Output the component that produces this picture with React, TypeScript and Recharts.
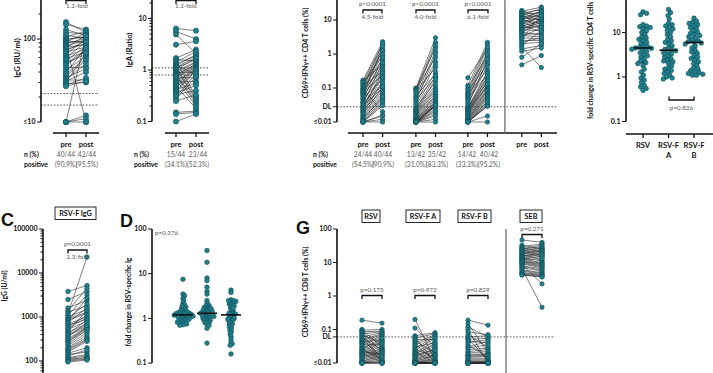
import React from 'react';
import { ScatterChart, Scatter, XAxis, YAxis, ReferenceLine, ErrorBar } from 'recharts';

const FONT = 'Lato, "Open Sans", "DejaVu Sans", sans-serif';
const TEAL = '#21808e';
const TEAL_DARK = '#0e4d58';
const INK = '#111';
const LINE = '#2a2a2a';
const NOTE = '#5a5a5a';

// ---------------- data ----------------
// A: RSV IgG (RU/ml), paired pre/post
const igg_pre = [160, 150, 130, 120, 112, 105, 100, 98, 95, 92, 90, 88, 85, 82, 80, 78, 75, 72, 70, 66, 62, 60, 58, 55, 52, 50, 48, 45, 42, 40, 38, 36, 34, 33, 32, 31, 30, 29, 28, 27, 10, 10, 10, 10];
const igg_post = [120, 130, 110, 115, 100, 125, 105, 108, 90, 118, 95, 102, 10, 98, 85, 112, 88, 96, 80, 100, 76, 92, 70, 82, 65, 75, 72, 46, 62, 78, 58, 55, 44, 50, 32, 40, 68, 30, 34, 31, 110, 12, 11, 10];
const igg_cutoffs = [22, 16];
// A: RSV IgA (ratio)
const iga_pre = [6.4, 5.6, 4.9, 3.1, 1.7, 1.6, 1.5, 1.4, 1.3, 1.25, 1.2, 1.15, 1.12, 1.1, 1.05, 1.0, 0.95, 0.9, 0.88, 0.85, 0.82, 0.8, 0.78, 0.75, 0.72, 0.7, 0.65, 0.6, 0.58, 0.55, 0.5, 0.48, 0.45, 0.42, 0.4, 0.38, 0.36, 0.33, 0.3, 0.27, 0.25, 0.15, 0.14, 0.1];
const iga_post = [5.8, 4.0, 2.1, 3.6, 2.5, 1.5, 0.3, 2.3, 1.9, 0.8, 2.0, 0.28, 1.8, 1.6, 0.26, 1.7, 1.45, 0.9, 1.4, 0.24, 1.3, 1.25, 0.22, 1.2, 0.7, 1.15, 0.2, 1.12, 0.6, 1.1, 1.08, 0.18, 1.05, 0.55, 1.0, 0.95, 0.5, 0.4, 0.85, 0.75, 0.33, 0.16, 0.15, 0.14];
const iga_cutoffs = [1.1, 0.8];

// B: CD69+IFNg+ CD4 T cells (%)
const cd4_rsv_pre = [0.17, 0.16, 0.15, 0.14, 0.13, 0.12, 0.11, 0.1, 0.095, 0.09, 0.085, 0.08, 0.075, 0.07, 0.065, 0.06, 0.055, 0.05, 0.045, 0.04, 0.038, 0.035, 0.032, 0.03, 0.027, 0.025, 0.023, 0.022, 0.02, 0.019, 0.018, 0.016, 0.015, 0.014, 0.013, 0.012, 0.011, 0.01, 0.01, 0.01, 0.01, 0.01, 0.01, 0.01];
const cd4_rsv_post = [2.3, 0.5, 1.9, 0.9, 1.5, 0.3, 1.2, 2.1, 0.7, 0.02, 1.3, 0.45, 1.0, 0.25, 0.6, 1.7, 0.4, 0.18, 0.8, 0.35, 0.12, 0.55, 0.22, 0.1, 0.32, 0.28, 0.2, 0.09, 0.16, 0.14, 0.08, 0.11, 0.07, 0.06, 0.05, 0.055, 0.045, 0.04, 0.035, 0.03, 0.016, 0.015, 0.012, 0.01];
const cd4_fa_pre = [0.1, 0.095, 0.09, 0.085, 0.08, 0.07, 0.06, 0.055, 0.05, 0.045, 0.04, 0.035, 0.03, 0.027, 0.025, 0.024, 0.022, 0.021, 0.02, 0.019, 0.018, 0.017, 0.016, 0.015, 0.014, 0.013, 0.013, 0.012, 0.012, 0.011, 0.011, 0.01, 0.01, 0.01, 0.01, 0.01, 0.01, 0.01, 0.01, 0.01, 0.01, 0.01];
const cd4_fa_post = [3.0, 1.5, 0.8, 2.2, 0.4, 1.8, 0.25, 1.2, 0.6, 0.2, 1.0, 0.5, 0.3, 0.15, 0.22, 0.12, 0.1, 0.18, 0.09, 0.08, 0.07, 0.06, 0.055, 0.05, 0.045, 0.04, 0.038, 0.035, 0.033, 0.031, 0.03, 0.029, 0.029, 0.03, 0.032, 0.025, 0.022, 0.02, 0.017, 0.015, 0.012, 0.01];
const cd4_fb_pre = [0.2, 0.12, 0.1, 0.09, 0.08, 0.07, 0.065, 0.06, 0.055, 0.05, 0.045, 0.04, 0.035, 0.03, 0.027, 0.026, 0.025, 0.024, 0.023, 0.022, 0.021, 0.02, 0.019, 0.018, 0.017, 0.016, 0.015, 0.014, 0.013, 0.013, 0.012, 0.012, 0.011, 0.011, 0.01, 0.01, 0.01, 0.01, 0.01, 0.01, 0.01, 0.01];
const cd4_fb_post = [1.4, 2.2, 0.9, 1.9, 0.5, 1.6, 0.35, 1.2, 0.8, 0.25, 1.0, 0.6, 0.45, 0.7, 0.3, 0.2, 0.27, 0.15, 0.22, 0.12, 0.18, 0.11, 0.16, 0.1, 0.13, 0.09, 0.085, 0.08, 0.07, 0.065, 0.06, 0.055, 0.05, 0.045, 0.04, 0.035, 0.032, 0.03, 0.029, 0.04, 0.015, 0.01];
const cd4_seb_pre = [19, 18, 17, 16, 15, 14, 13.5, 13, 12, 11.5, 11, 10.5, 10, 9.5, 9, 8.5, 8, 7.5, 7, 6.5, 6, 5.8, 5.5, 5.2, 5, 4.7, 4.4, 4.1, 3.8, 3.5, 3.2, 3, 2.8, 2.5, 2.2, 2, 1.8, 1.6, 1.4, 1.2, 0.8, 0.48];
const cd4_seb_post = [12, 24, 9, 20, 16, 7, 22, 13, 10, 18, 6, 14, 19, 8, 11, 5.5, 17, 12.5, 4.5, 9.5, 15, 6.5, 8.5, 10.5, 5, 7.5, 3.6, 11.5, 4, 3.2, 6, 2.8, 13.5, 2.5, 3, 2.2, 4.8, 0.4, 1.8, 1.5, 2.0, 0.9];
const cd4_DL = 0.028;

// B right: fold change in RSV-specific CD4 T cells
const fc_categories = ['RSV', 'RSV-F A', 'RSV-F B'];
const fc_rsv = [29, 27, 25, 15, 14, 13.5, 13, 12, 11, 10, 9, 8, 7.5, 7, 6.5, 6, 5.5, 5, 4.8, 4.6, 4.5, 4.4, 4.2, 4, 3.8, 3.5, 3.2, 3, 2.8, 2.5, 2.3, 2.1, 2, 1.8, 1.5, 1.3, 1.1, 0.95, 0.85, 0.75, 0.65, 0.6, 0.55, 0.5];
const fc_fa = [33, 28, 24, 20, 16, 15, 14, 13, 12, 11, 10, 9, 8, 7, 6.5, 6, 5.5, 5, 4.5, 4.2, 4.0, 3.9, 3.7, 3.5, 3.3, 3, 2.8, 2.6, 2.4, 2.3, 2.2, 2, 1.8, 1.6, 1.5, 1.4, 1.3, 1.2, 1.1, 1.0, 0.95, 0.9];
const fc_fb = [21, 18, 17, 16, 15, 14, 13, 12, 11, 10, 9.5, 9, 8.5, 8, 7.5, 7, 6.5, 6.2, 6, 5.8, 5.5, 5, 4.5, 4, 3.7, 3.4, 3, 2.8, 2.6, 2.4, 2.2, 2, 1.8, 1.6, 1.5, 1.4, 1.3, 1.25, 1.2, 1.15, 1.1, 1.1];
const fc_median = [4.5, 4.0, 6.0];
const fc_q1 = [2.1, 2.3, 2.6];
const fc_q3 = [13, 14, 14];

// C: RSV-F IgG (U/ml)
const fIgg_pre = [3800, 2500, 1600, 1400, 1300, 1200, 1100, 1000, 950, 900, 850, 800, 750, 700, 650, 600, 560, 520, 480, 450, 420, 400, 380, 350, 320, 300, 280, 260, 240, 220, 200, 190, 180, 170, 160, 150, 140, 130, 120, 115, 110, 105, 100, 95];
const fIgg_post = [5200, 3800, 2400, 4500, 1800, 23000, 3200, 1500, 2000, 1300, 1200, 2700, 1600, 1000, 900, 1100, 950, 800, 1400, 700, 850, 650, 600, 750, 580, 550, 500, 620, 520, 450, 400, 350, 320, 300, 280, 200, 160, 180, 140, 130, 120, 115, 110, 105];

// D: fold change in RSV-specific Ig
const dfc_g1 = [7.5, 3.5, 3.2, 2.8, 2.5, 2.2, 2.0, 1.9, 1.8, 1.7, 1.6, 1.5, 1.45, 1.4, 1.35, 1.3, 1.28, 1.25, 1.22, 1.2, 1.18, 1.15, 1.12, 1.1, 1.08, 1.05, 1.02, 1.0, 0.98, 0.95, 0.92, 0.9, 0.88, 0.85, 0.82, 0.8, 0.78, 0.75, 0.72, 0.7, 1.3, 1.4, 1.15, 1.25];
const dfc_g2 = [33, 18, 8, 7, 5, 4, 3.5, 2.5, 2.2, 2.0, 1.9, 1.8, 1.75, 1.7, 1.6, 1.55, 1.5, 1.45, 1.4, 1.35, 1.3, 1.3, 1.25, 1.2, 1.2, 1.15, 1.1, 1.1, 1.05, 1.0, 1.0, 0.95, 0.9, 0.9, 0.85, 0.8, 0.8, 0.75, 0.7, 0.6, 0.28, 1.6, 1.4, 1.2];
const dfc_g3 = [4.3, 3.8, 2.6, 2.5, 2.5, 2.4, 2.3, 2.2, 2.1, 2.0, 1.9, 1.8, 1.6, 1.5, 1.4, 1.3, 1.25, 1.2, 1.15, 1.1, 1.05, 1.0, 0.95, 0.9, 0.85, 0.8, 0.75, 0.7, 0.65, 0.6, 0.55, 0.5, 0.45, 0.4, 0.35, 0.3, 0.27, 0.25, 0.16, 1.7, 1.3, 0.95];
const dfc_median = [1.2, 1.3, 1.2];
const dfc_q1 = [0.95, 1.0, 0.75];
const dfc_q3 = [1.7, 1.8, 2.1];

// G: CD69+IFNg+ CD8 T cells (%)
const cd8_rsv_pre = [0.19, 0.1, 0.095, 0.09, 0.085, 0.08, 0.075, 0.07, 0.065, 0.06, 0.055, 0.05, 0.048, 0.045, 0.042, 0.04, 0.038, 0.035, 0.033, 0.03, 0.028, 0.026, 0.025, 0.024, 0.022, 0.021, 0.02, 0.019, 0.018, 0.017, 0.016, 0.015, 0.014, 0.013, 0.012, 0.011, 0.011, 0.01, 0.01, 0.01, 0.01, 0.01, 0.01, 0.01];
const cd8_rsv_post = [0.155, 0.03, 0.1, 0.02, 0.09, 0.012, 0.085, 0.04, 0.01, 0.08, 0.025, 0.075, 0.015, 0.07, 0.05, 0.011, 0.065, 0.035, 0.06, 0.01, 0.047, 0.055, 0.013, 0.044, 0.018, 0.042, 0.01, 0.037, 0.032, 0.028, 0.026, 0.024, 0.023, 0.022, 0.021, 0.019, 0.017, 0.016, 0.014, 0.012, 0.011, 0.01, 0.01, 0.01];
const cd8_fa_pre = [0.2, 0.11, 0.065, 0.06, 0.055, 0.05, 0.045, 0.04, 0.037, 0.034, 0.03, 0.028, 0.026, 0.024, 0.022, 0.02, 0.019, 0.018, 0.017, 0.016, 0.015, 0.014, 0.013, 0.012, 0.012, 0.011, 0.011, 0.01, 0.01, 0.01, 0.01, 0.01, 0.01, 0.01, 0.01, 0.01, 0.01, 0.01, 0.01, 0.01, 0.01, 0.01];
const cd8_fa_post = [0.012, 0.03, 0.08, 0.01, 0.075, 0.05, 0.02, 0.07, 0.011, 0.065, 0.04, 0.06, 0.015, 0.055, 0.01, 0.045, 0.035, 0.038, 0.025, 0.032, 0.028, 0.026, 0.022, 0.019, 0.024, 0.018, 0.017, 0.016, 0.014, 0.013, 0.012, 0.011, 0.01, 0.01, 0.01, 0.01, 0.01, 0.01, 0.01, 0.01, 0.01, 0.01];
const cd8_fb_pre = [0.19, 0.15, 0.12, 0.1, 0.085, 0.07, 0.06, 0.055, 0.05, 0.045, 0.04, 0.035, 0.03, 0.028, 0.025, 0.022, 0.02, 0.018, 0.017, 0.016, 0.015, 0.014, 0.013, 0.012, 0.011, 0.011, 0.01, 0.01, 0.01, 0.01, 0.01, 0.01, 0.01, 0.01, 0.01, 0.01, 0.01, 0.01, 0.01, 0.01, 0.01, 0.01];
const cd8_fb_post = [0.135, 0.02, 0.06, 0.01, 0.07, 0.03, 0.065, 0.012, 0.055, 0.04, 0.05, 0.015, 0.045, 0.035, 0.028, 0.025, 0.022, 0.019, 0.018, 0.017, 0.016, 0.014, 0.013, 0.012, 0.011, 0.011, 0.01, 0.01, 0.01, 0.01, 0.01, 0.01, 0.01, 0.01, 0.01, 0.01, 0.01, 0.01, 0.01, 0.01, 0.01, 0.01];
const cd8_seb_pre = [47, 33, 30, 28, 26, 25, 24, 23, 22, 21, 20, 19, 18, 17, 16, 15.5, 15, 14, 13.5, 13, 12.5, 12, 11.5, 11, 10.5, 10, 9.5, 9, 8.5, 8, 7.5, 7, 6.5, 6, 5.5, 5, 4.8, 4.5, 4.3, 4.2];
const cd8_seb_post = [40, 25, 36, 20, 33, 30, 16, 28, 26, 14, 24, 23, 22, 12, 21, 19, 18, 11, 17, 15, 10, 13, 9.5, 9, 8.5, 8, 7.5, 7, 2.3, 6.5, 6, 5.5, 0.46, 5, 4.8, 4.5, 4.2, 4, 3.8, 3.7];
const cd8_DL = 0.06;

// ---------------- helpers ----------------
type Geo = { L: number; R: number; T: number; B: number; yv: number; yp: number; dec: number; xv: number; xp: number; ux: number; yw: number; xh: number };
type PairGroup = { pre: number[]; post: number[]; xPre: number; xPost: number };
type SwarmGroup = { values: number[]; x: number; med: number; q1: number; q3: number };
type Cfg = {
  geo: Geo;
  yTicks: [number, string][];
  minor: boolean;
  yLine: [number, number];
  xTicks: [number, string[]][];
  xLine?: [number, number];
  pairs?: PairGroup[];
  swarms?: SwarmGroup[];
  pack?: number;
  dashed?: { y: number; x2: number }[];
  vline?: number;
  r: number;
  medHalf?: number;
};

const MT = 8;
const MR = 4;

function minorTicks(lo: number, hi: number): number[] {
  const out: number[] = [];
  for (let e = Math.floor(Math.log10(lo)) - 1; e <= Math.ceil(Math.log10(hi)); e++) {
    for (let m = 2; m <= 9; m++) {
      const v = m * Math.pow(10, e);
      if (v > lo * 1.0001 && v < hi * 0.9999) out.push(v);
    }
  }
  return out;
}

function swarmOffsets(values: number[], dec: number, r: number, pack: number): number[] {
  const order = values.map((_, i) => i).sort((a, b) => values[b] - values[a]);
  const placed: [number, number][] = [];
  const out = new Array(values.length).fill(0);
  const minD = 2 * r * pack;
  for (const i of order) {
    const py = Math.log10(values[i]) * dec;
    let best = 0;
    for (let k = 0; k < 400; k++) {
      const c = k === 0 ? 0 : (k % 2 ? 1 : -1) * Math.ceil(k / 2) * 0.4;
      if (placed.every(([px, qy]) => (px - c) ** 2 + (qy - py) ** 2 >= minD * minD)) { best = c; break; }
    }
    placed.push([best, py]);
    out[i] = best;
  }
  return out;
}

const YTick = (props: any) => {
  const { x, y, payload, labels } = props;
  const lab = labels.get(payload.value);
  const major = lab !== undefined;
  return (
    <g>
      <line x1={x - (major ? 4 : 2.5)} x2={x} y1={y} y2={y} stroke={INK} strokeWidth={1} />
      {major && lab !== '' && (
        <text x={x - 5.5} y={y} dy="0.34em" textAnchor="end" fontSize={7} fontWeight={700} fontFamily={FONT} fill={INK}>{lab}</text>
      )}
    </g>
  );
};

const XTick = (props: any) => {
  const { x, y, payload, labels } = props;
  const lines: string[] = labels.get(payload.value) || [];
  return (
    <g>
      <line x1={x} x2={x} y1={y} y2={y + 4} stroke={INK} strokeWidth={1.3} />
      {lines.map((l, i) => (
        <text key={i} x={x} y={y + 14 + i * 9.5} textAnchor="middle" fontSize={7.5} fontWeight={700} fontFamily={FONT} fill={INK}>{l}</text>
      ))}
    </g>
  );
};

const NoShape = () => <g />;

function Panel({ cfg }: { cfg: Cfg }) {
  const g = cfg.geo;
  const yMin = g.yv * Math.pow(10, -(g.B - g.yp) / g.dec);
  const yMax = g.yv * Math.pow(10, (g.yp - g.T) / g.dec);
  const xMin = g.xv - (g.xp - g.L) / g.ux;
  const xMax = g.xv + (g.R - g.xp) / g.ux;
  const W = g.R - g.L + g.yw + MR;
  const H = g.B - g.T + g.xh + MT;
  const labels = new Map<number, string>(cfg.yTicks);
  const yLo = Math.max(cfg.yLine[0], yMin);
  const ticks = cfg.yTicks.map((t) => t[0]).concat(cfg.minor ? minorTicks(yLo, cfg.yLine[1]) : []);
  const xLabels = new Map<number, string[]>(cfg.xTicks);
  const r = cfg.r;
  const dots: { x: number; y: number }[] = [];
  (cfg.pairs || []).forEach((p) => {
    p.pre.forEach((v) => dots.push({ x: p.xPre, y: v }));
    p.post.forEach((v) => dots.push({ x: p.xPost, y: v }));
  });
  (cfg.swarms || []).forEach((s) => {
    const off = swarmOffsets(s.values, g.dec, r, cfg.pack || 0.9);
    s.values.forEach((v, i) => dots.push({ x: s.x + off[i] / g.ux, y: v }));
  });
  const dotShape = (p: any) => <circle cx={p.cx} cy={p.cy} r={r} fill={TEAL} stroke={TEAL_DARK} strokeWidth={0.6} />;
  const medHalf = cfg.medHalf || 10;
  const medShape = (p: any) => <line x1={p.cx - medHalf} x2={p.cx + medHalf} y1={p.cy} y2={p.cy} stroke={INK} strokeWidth={1.6} />;
  const hideX = cfg.xTicks.length === 0;

  return (
    <div style={{ position: 'absolute', left: g.L - g.yw, top: g.T - MT, width: W, height: H }}>
      <ScatterChart width={W} height={H} margin={{ top: MT, right: MR, bottom: 0, left: 0 }}>
        <XAxis type="number" dataKey="x" domain={[xMin, xMax]} allowDataOverflow hide={hideX}
          ticks={cfg.xTicks.map((t) => t[0])} interval={0} tickSize={0} tickMargin={0} tickLine={false} axisLine={false}
          height={hideX ? 0 : g.xh} tick={(p: any) => <XTick {...p} labels={xLabels} />} />
        <YAxis type="number" dataKey="y" scale="log" domain={[yMin, yMax]} allowDataOverflow
          ticks={ticks} interval={0} tickSize={0} tickMargin={0} tickLine={false} axisLine={false}
          width={g.yw} tick={(p: any) => <YTick {...p} labels={labels} />} />
        <ReferenceLine segment={[{ x: xMin, y: yLo }, { x: xMin, y: cfg.yLine[1] }]} stroke={INK} strokeWidth={1.6} ifOverflow="visible" />
        {cfg.xLine && (
          <ReferenceLine segment={[{ x: cfg.xLine[0], y: yMin }, { x: cfg.xLine[1], y: yMin }]} stroke={INK} strokeWidth={1.6} ifOverflow="visible" />
        )}
        {(cfg.dashed || []).map((d, i) => (
          <ReferenceLine key={'d' + i} segment={[{ x: xMin, y: d.y }, { x: d.x2, y: d.y }]} stroke="#222" strokeWidth={0.8} strokeDasharray="1.6 1.6" ifOverflow="visible" />
        ))}
        {cfg.vline !== undefined && (
          <ReferenceLine segment={[{ x: cfg.vline, y: yMin }, { x: cfg.vline, y: yMax }]} stroke="#777" strokeWidth={1.4} ifOverflow="visible" />
        )}
        {(cfg.pairs || []).flatMap((p, gi) =>
          p.pre.map((v, i) => (
            <Scatter key={`l${gi}-${i}`} data={[{ x: p.xPre, y: v }, { x: p.xPost, y: p.post[i] }]} fill={LINE}
              line={{ stroke: LINE, strokeWidth: 0.6 }} shape={NoShape} isAnimationActive={false} />
          ))
        )}
        <Scatter data={dots} shape={dotShape} isAnimationActive={false} />
        {(cfg.swarms || []).map((s, i) => (
          <Scatter key={'m' + i} data={[{ x: s.x, y: s.med, err: [s.med - s.q1, s.q3 - s.med] }]} shape={medShape} isAnimationActive={false}>
            <ErrorBar dataKey="err" direction="y" width={4} stroke={INK} strokeWidth={1.4} />
          </Scatter>
        ))}
      </ScatterChart>
    </div>
  );
}

// ---------------- panel configs ----------------
const prePost = (a: number, b: number): [number, string[]][] => [[a, ['pre']], [b, ['post']]];

const cfgIgG: Cfg = {
  geo: { L: 41, R: 105, T: -44, B: 133, yv: 100, yp: 39, dec: 83, xv: 1, xp: 66, ux: 20, yw: 30, xh: 22 },
  yTicks: [[100, '100'], [10, '≤10']], minor: true, yLine: [10, 1000],
  xTicks: prePost(1, 2), xLine: [0.35, 2.65],
  pairs: [{ pre: igg_pre, post: igg_post, xPre: 1, xPost: 2 }],
  dashed: igg_cutoffs.map((y) => ({ y, x2: 2.65 })), r: 2.6,
};

const cfgIgA: Cfg = {
  geo: { L: 152, R: 215, T: -33, B: 133, yv: 1, yp: 70, dec: 51.5, xv: 1, xp: 176, ux: 20, yw: 28, xh: 22 },
  yTicks: [[10, '10'], [1, '1'], [0.1, '0.1']], minor: true, yLine: [0.1, 100],
  xTicks: prePost(1, 2), xLine: [0.45, 2.65],
  pairs: [{ pre: iga_pre, post: iga_post, xPre: 1, xPost: 2 }],
  dashed: iga_cutoffs.map((y) => ({ y, x2: 2.65 })), r: 2.6,
};

const cd4Pos: [number, number][] = [[0, 1], [2.7, 3.7], [5.35, 6.35], [8.1, 9.1]];
const cfgCD4: Cfg = {
  geo: { L: 337, R: 560, T: -14, B: 133, yv: 0.01, yp: 122, dec: 34, xv: 0, xp: 363, ux: 19.6, yw: 30, xh: 22 },
  yTicks: [[10, '10'], [1, '1'], [0.1, '0.1'], [cd4_DL, 'DL'], [0.01, '≤0.01']], minor: false, yLine: [0.01, 100],
  xTicks: cd4Pos.flatMap(([a, b]) => prePost(a, b)), xLine: [-0.77, 9.9],
  pairs: [
    { pre: cd4_rsv_pre, post: cd4_rsv_post, xPre: cd4Pos[0][0], xPost: cd4Pos[0][1] },
    { pre: cd4_fa_pre, post: cd4_fa_post, xPre: cd4Pos[1][0], xPost: cd4Pos[1][1] },
    { pre: cd4_fb_pre, post: cd4_fb_post, xPre: cd4Pos[2][0], xPost: cd4Pos[2][1] },
    { pre: cd4_seb_pre, post: cd4_seb_post, xPre: cd4Pos[3][0], xPost: cd4Pos[3][1] },
  ],
  dashed: [{ y: cd4_DL, x2: 9.9 }], vline: 7.24, r: 2.2,
};

const cfgFC: Cfg = {
  geo: { L: 626, R: 713, T: -12, B: 134, yv: 1, yp: 77, dec: 44.5, xv: 1, xp: 643, ux: 25.5, yw: 30, xh: 34 },
  yTicks: [[10, '10'], [1, '1'], [0.1, '0.1']], minor: false, yLine: [0.1, 100],
  xTicks: [[1, ['RSV']], [2, ['RSV-F', 'A']], [3, ['RSV-F', 'B']]], xLine: [0.33, 4.4],
  swarms: [fc_rsv, fc_fa, fc_fb].map((values, i) => ({ values, x: i + 1, med: fc_median[i], q1: fc_q1[i], q3: fc_q3[i] })),
  pack: 0.8, r: 2.3, medHalf: 9,
};

const cfgFIgG: Cfg = {
  geo: { L: 43, R: 110, T: 229, B: 395, yv: 100, yp: 361, dec: 44, xv: 1, xp: 68, ux: 19, yw: 36, xh: 0 },
  yTicks: [[100000, '100000'], [10000, '10000'], [1000, '1000'], [100, '100']], minor: true, yLine: [1, 100000],
  xTicks: [],
  pairs: [{ pre: fIgg_pre, post: fIgg_post, xPre: 1, xPost: 2 }], r: 2.3,
};

const cfgDFC: Cfg = {
  geo: { L: 152, R: 250, T: 229, B: 395, yv: 1, yp: 318.4, dec: 44.7, xv: 1, xp: 183, ux: 24, yw: 30, xh: 0 },
  yTicks: [[100, '100'], [10, '10'], [1, '1'], [0.1, '0.1']], minor: false, yLine: [0.1, 100],
  xTicks: [],
  swarms: [dfc_g1, dfc_g2, dfc_g3].map((values, i) => ({ values, x: i + 1, med: dfc_median[i], q1: dfc_q1[i], q3: dfc_q3[i] })),
  pack: 0.5, r: 2.3, medHalf: 10,
};

const cd8Pos: [number, number][] = [[0, 1], [2.65, 3.65], [5.3, 6.3], [8, 9]];
const cfgCD8: Cfg = {
  geo: { L: 337, R: 560, T: 229, B: 395, yv: 0.01, yp: 363, dec: 33.5, xv: 0, xp: 362, ux: 20, yw: 30, xh: 0 },
  yTicks: [[100, '100'], [10, '10'], [1, '1'], [0.1, '0.1'], [cd8_DL, 'DL'], [0.01, '≤0.01']], minor: false, yLine: [0.01, 100],
  xTicks: [],
  pairs: [
    { pre: cd8_rsv_pre, post: cd8_rsv_post, xPre: cd8Pos[0][0], xPost: cd8Pos[0][1] },
    { pre: cd8_fa_pre, post: cd8_fa_post, xPre: cd8Pos[1][0], xPost: cd8Pos[1][1] },
    { pre: cd8_fb_pre, post: cd8_fb_post, xPre: cd8Pos[2][0], xPost: cd8Pos[2][1] },
    { pre: cd8_seb_pre, post: cd8_seb_post, xPre: cd8Pos[3][0], xPost: cd8Pos[3][1] },
  ],
  dashed: [{ y: cd8_DL, x2: 9.65 }], vline: 7.2, r: 2.2,
};

// ---------------- annotations ----------------
const Txt = ({ x, y, children, size = 6.3, anchor = 'middle', weight = 400, fill = NOTE, rot }: any) => (
  <text x={rot ? 0 : x} y={rot ? 0 : y} transform={rot ? `translate(${x},${y}) rotate(-90)` : undefined}
    textAnchor={anchor} fontSize={size} fontWeight={weight} fill={fill} fontFamily={FONT}>{children}</text>
);
const Bracket = ({ a, b, y, up }: any) => (
  <path d={up ? `M${a} ${y - 3.5} V${y} H${b} V${y - 3.5}` : `M${a} ${y + 3.5} V${y} H${b} V${y + 3.5}`} fill="none" stroke={INK} strokeWidth={1.3} />
);
const Box = ({ x, y, w, label }: any) => (
  <g>
    <rect x={x} y={y} width={w} height={12.5} fill="#fff" stroke={INK} strokeWidth={0.9} />
    <Txt x={x + w / 2} y={y + 9.2} size={7.2} weight={700} fill={INK}>{label}</Txt>
  </g>
);
const NRows = ({ x, items }: any) => (
  <g>
    <Txt x={x} y={157} anchor="start" weight={700} fill={INK} size={6.8}>n (%)</Txt>
    <Txt x={x} y={166.5} anchor="start" weight={700} fill={INK} size={6.8}>positive</Txt>
    {items.map(([cx, n, p]: any, i: number) => (
      <g key={i}>
        <Txt x={cx} y={157} size={6.6}>{n}</Txt>
        <Txt x={cx} y={166.5} size={6.6}>{p}</Txt>
      </g>
    ))}
  </g>
);

function Overlay() {
  return (
    <svg width={713} height={373} style={{ position: 'absolute', left: 0, top: 0, pointerEvents: 'none' }}>
      {/* A */}
      <Bracket a={66} b={86} y={0.6} />
      <Txt x={77} y={8}>1.2-fold</Txt>
      <Txt x={20} y={58} rot size={7.6} weight={700} fill={INK}>IgG (RU/ml)</Txt>
      <NRows x={24} items={[[66, '40/44', '(90.9%)'], [87, '42/44', '(95.5%)']]} />
      <Bracket a={176} b={196} y={0.6} />
      <Txt x={186} y={8}>1.2-fold</Txt>
      <Txt x={132} y={50} rot size={7.6} weight={700} fill={INK}>IgA (Ratio)</Txt>
      <NRows x={134} items={[[176, '15/44', '(34.1%)'], [198, '23/44', '(52.3%)']]} />
      {/* B */}
      <Txt x={308} y={53} rot size={6.8} weight={700} fill={INK}>CD69+IFNγ++ CD4 T cells (%)</Txt>
      {[[363, 382, '4.5-fold'], [416, 435, '4.0-fold'], [468, 488, '6.1-fold']].map(([a, b, f]: any, i) => (
        <g key={i}>
          <Txt x={(a + b) / 2} y={5.5}>p&lt;0.0001</Txt>
          <Bracket a={a} b={b} y={10} />
          <Txt x={(a + b) / 2} y={18.5}>{f}</Txt>
        </g>
      ))}
      <NRows x={313} items={[[363, '24/44', '(54.5%)'], [383, '40/44', '(90.9%)'], [416, '13/42', '(31.0%)'], [437, '35/42', '(83.3%)'], [467, '14/42', '(33.3%)'], [489, '40/42', '(95.2%)']]} />
      <Txt x={593} y={119} rot anchor="start" size={6.8} weight={700} fill={INK}>fold change in RSV-specific CD4 T cells</Txt>
      <Bracket a={669} b={694} y={100} up />
      <Txt x={681.5} y={110}>p=0.826</Txt>
      {/* C */}
      <text x={1} y={226} fontSize={18} fontWeight={700} fontFamily="Liberation Sans, Arial, sans-serif" fill={INK}>C</text>
      <Box x={55} y={207} w={41} label="RSV-F IgG" />
      <Txt x={77.5} y={245.5}>p=0.0001</Txt>
      <Bracket a={68} b={87} y={250} />
      <Txt x={77.5} y={258.5}>1.3-fold</Txt>
      <Txt x={7} y={286} rot size={6.8} weight={700} fill={INK}>IgG (U/ml)</Txt>
      {/* D */}
      <text x={120} y={227} fontSize={18} fontWeight={700} fontFamily="Liberation Sans, Arial, sans-serif" fill={INK}>D</text>
      <Txt x={155} y={234.5} anchor="start">p=0.376</Txt>
      <Txt x={131} y={302} rot size={6.8} weight={700} fill={INK}>fold change in RSV-specific Ig</Txt>
      {/* G */}
      <text x={296} y={234} fontSize={18} fontWeight={700} fontFamily="Liberation Sans, Arial, sans-serif" fill={INK}>G</text>
      <Txt x={308} y={292} rot size={6.8} weight={700} fill={INK}>CD69+IFNγ++ CD8 T cells (%)</Txt>
      <Box x={362} y={210} w={18} label="RSV" />
      <Box x={406} y={210} w={34} label="RSV-F A" />
      <Box x={458} y={210} w={33} label="RSV-F B" />
      <Box x={520} y={210} w={22} label="SEB" />
      {[[362, 382, 'p=0.175'], [415, 435, 'p=0.972'], [468, 488, 'p=0.829']].map(([a, b, p]: any, i) => (
        <g key={i}>
          <Txt x={(a + b) / 2} y={291.5}>{p}</Txt>
          <Bracket a={a} b={b} y={295.5} />
        </g>
      ))}
      <Txt x={532} y={230.5}>p=0.271</Txt>
      <Bracket a={522} b={542} y={234.5} />
    </svg>
  );
}

export default function App() {
  return (
    <div style={{ position: 'absolute', left: 0, top: 0, width: 713, height: 373, overflow: 'hidden', background: '#fff', fontFamily: FONT }}>
      <Panel cfg={cfgIgG} />
      <Panel cfg={cfgIgA} />
      <Panel cfg={cfgCD4} />
      <Panel cfg={cfgFC} />
      <Panel cfg={cfgFIgG} />
      <Panel cfg={cfgDFC} />
      <Panel cfg={cfgCD8} />
      <Overlay />
    </div>
  );
}
